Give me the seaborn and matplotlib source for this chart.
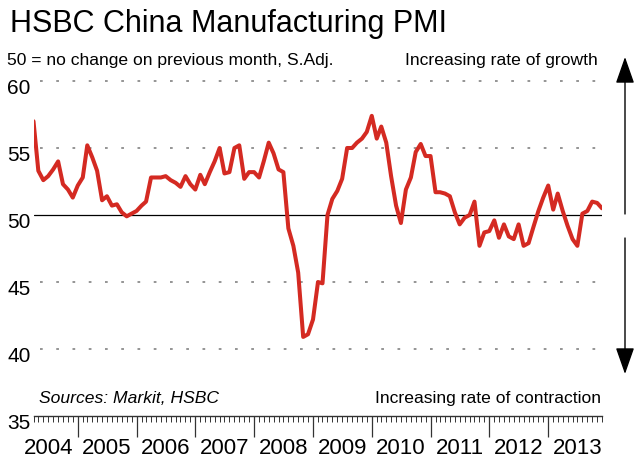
import numpy as np
import pandas as pd
import seaborn as sns
import matplotlib.pyplot as plt
import matplotlib.dates as mdates
from matplotlib.transforms import ScaledTranslation

# --- DATA: HSBC China Manufacturing PMI, monthly, Apr 2004 - Dec 2013 ---
pmi_2004 = [57.0, 53.3, 52.6, 52.9, 53.4, 54.0, 52.3, 51.9, 51.3]  # Apr-Dec
pmi_2005 = [52.2, 52.8, 55.2, 54.3, 53.3, 51.1, 51.4, 50.7, 50.8, 50.2, 49.9, 50.1]
pmi_2006 = [50.3, 50.7, 51.0, 52.8, 52.8, 52.8, 52.9, 52.6, 52.4, 52.1, 52.9, 52.3]
pmi_2007 = [51.9, 53.0, 52.3, 53.2, 54.0, 55.0, 53.1, 53.2, 55.0, 55.2, 52.7, 53.2]
pmi_2008 = [53.2, 52.8, 54.0, 55.4, 54.6, 53.4, 53.2, 49.0, 47.7, 45.7, 40.9, 41.1]
pmi_2009 = [42.2, 45.0, 44.9, 50.0, 51.2, 51.8, 52.7, 55.0, 55.0, 55.4, 55.7, 56.2]
pmi_2010 = [57.4, 55.7, 56.6, 55.4, 52.9, 50.7, 49.4, 51.9, 52.8, 54.7, 55.3, 54.4]
pmi_2011 = [54.4, 51.7, 51.7, 51.6, 51.4, 50.2, 49.3, 49.8, 50.0, 51.0, 47.7, 48.7]
pmi_2012 = [48.8, 49.6, 48.3, 49.3, 48.4, 48.2, 49.3, 47.7, 47.9, 49.1, 50.3, 51.3]
pmi_2013 = [52.2, 50.4, 51.6, 50.3, 49.2, 48.2, 47.7, 50.1, 50.3, 51.0, 50.9, 50.5]

years = list(range(2004, 2014))
y_ticks = [35, 40, 45, 50, 55, 60]

pmi = (pmi_2004 + pmi_2005 + pmi_2006 + pmi_2007 + pmi_2008 +
       pmi_2009 + pmi_2010 + pmi_2011 + pmi_2012 + pmi_2013)
dates = pd.date_range("2004-04-01", periods=len(pmi), freq="MS")
df = pd.DataFrame({"date": dates, "pmi": pmi})

# --- STYLE ---
sns.set_theme(style="white")
plt.rcParams["font.family"] = ["Liberation Sans", "DejaVu Sans"]

fig = plt.figure(figsize=(6.4, 4.6), dpi=100)
ax = fig.add_axes([33.5 / 640, 1 - 417 / 460, 568.5 / 640, 335 / 460])

# reference lines
for lvl in [40, 45, 55, 60]:
    ax.axhline(lvl, xmin=0.012, xmax=0.993, color="#8c8c8c", lw=1.3,
               dashes=(1.5, 7.5), clip_on=False, zorder=1)
ax.axhline(50, color="black", lw=0.9, zorder=2)

sns.lineplot(data=df, x="date", y="pmi", ax=ax, color="#d42a22",
             linewidth=2.9, zorder=3)

ax.set_xlim(dates[0], dates[-1])
ax.set_ylim(35, 60)
ax.set_xlabel("")
ax.set_ylabel("")

# spines
for side in ["top", "right", "left"]:
    ax.spines[side].set_visible(False)
ax.spines["bottom"].set_color("#333333")
ax.spines["bottom"].set_linewidth(1.0)

# y ticks
ax.set_yticks(y_ticks)
ax.tick_params(axis="y", length=0, pad=2, labelsize=15, labelcolor="black")
for lab in ax.get_yticklabels():
    lab.set_transform(lab.get_transform() +
                      ScaledTranslation(0, -3 / 72, fig.dpi_scale_trans))

# x ticks: long at each January, short at each month
ax.xaxis.set_major_locator(mdates.YearLocator())
ax.xaxis.set_minor_locator(mdates.MonthLocator())
ax.xaxis.set_major_formatter(plt.NullFormatter())
ax.tick_params(axis="x", which="major", direction="out", length=15,
               width=0.9, color="#333333", bottom=True)
ax.tick_params(axis="x", which="minor", direction="out", length=4.5,
               width=0.7, color="#333333", bottom=True)

# year labels centred in each year
for yr in years:
    ax.annotate(str(yr), xy=(pd.Timestamp(f"{yr}-07-01"), 0),
                xycoords=("data", "axes fraction"), xytext=(0, -22.5),
                textcoords="offset points", ha="center", va="center",
                fontsize=16, color="black", annotation_clip=False)

# titles and notes
fig.text(10 / 640, 1 - 31.7 / 460, "HSBC China Manufacturing PMI",
         fontsize=22, va="baseline", ha="left", color="black")
fig.text(7 / 640, 1 - 65 / 460, "50 = no change on previous month, S.Adj.",
         fontsize=12.6, va="baseline", ha="left", color="black")
fig.text(598 / 640, 1 - 65 / 460, "Increasing rate of growth",
         fontsize=12.6, va="baseline", ha="right", color="black")
fig.text(39 / 640, 1 - 403 / 460, "Sources: Markit, HSBC", style="italic",
         fontsize=12.6, va="baseline", ha="left", color="black")
fig.text(601 / 640, 1 - 403 / 460, "Increasing rate of contraction",
         fontsize=12.6, va="baseline", ha="right", color="black")

# direction arrows on the right
arrow = dict(arrowstyle="-|>,head_length=1.65,head_width=0.58",
             color="black", lw=1.0, mutation_scale=10, shrinkA=0, shrinkB=0)
fig.add_artist(plt.Annotation("", xy=(625 / 640, 1 - 58 / 460),
                              xytext=(625 / 640, 1 - 215 / 460),
                              xycoords="figure fraction",
                              textcoords="figure fraction", arrowprops=arrow))
fig.add_artist(plt.Annotation("", xy=(625 / 640, 1 - 375 / 460),
                              xytext=(625 / 640, 1 - 239 / 460),
                              xycoords="figure fraction",
                              textcoords="figure fraction", arrowprops=arrow))

fig.savefig("out.png", dpi=100, facecolor="white")
